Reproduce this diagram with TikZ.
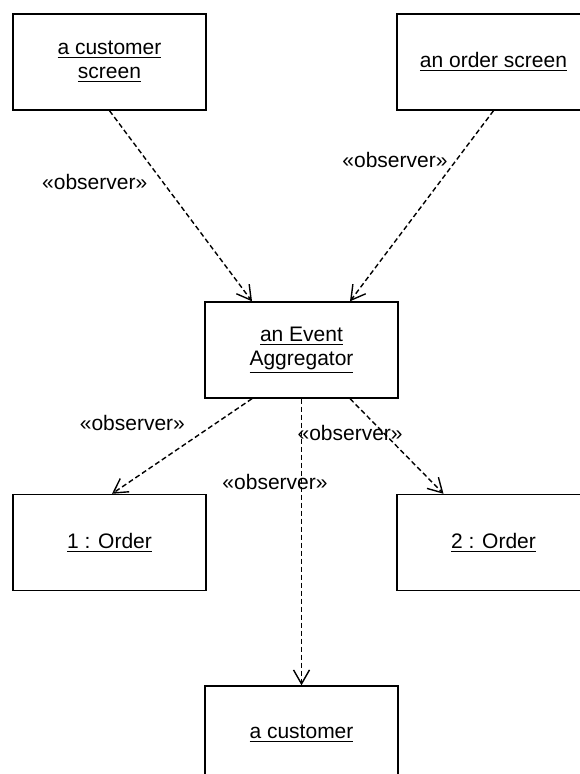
\documentclass[tikz,border=0pt]{standalone}
\usepackage{fontspec}
\setmainfont{Liberation Sans}
\usetikzlibrary{arrows.meta, positioning, calc}

\begin{document}
\begin{tikzpicture}[
  x=0.5pt, y=-0.5pt,
  obj/.style={draw, line width=0.7pt, minimum width=96.5pt, minimum height=48pt, align=center, inner sep=0pt, font=\fontsize{10.5}{12}\selectfont},
  obs label/.style={inner sep=0pt, font=\fontsize{10.5}{12}\selectfont},
  dep/.style={-{Straight Barb[length=7pt, width=8pt]}, dash pattern=on 2.5pt off 1.5pt, line width=0.7pt},
]
\useasboundingbox (0,0) rectangle (579,774);

% objects
\node[obj] (cscreen) at (109.5, 62) {\underline{a customer}\\\underline{screen}};
\node[obj] (oscreen) at (493.5, 62) {\underline{an order screen}};
\node[obj] (agg) at (301.5, 350) {\underline{an Event}\\\underline{Aggregator}};
\node[obj] (order1) at (109.5, 542.5) {\underline{1 : Order}};
\node[obj] (order2) at (493.5, 542.5) {\underline{2 : Order}};
\node[obj] (cust) at (301.5, 734) {\underline{a customer}};

% observer links
\draw[dep] (cscreen.south) -- ([xshift=-24.75pt]agg.north) node[obs label, pos=.375, anchor=east, xshift=-7.5pt] {«observer»};
\draw[dep] (oscreen.south) -- ([xshift=24.25pt]agg.north) node[obs label, pos=.26, anchor=east, xshift=-4pt] {«observer»};
\draw[dep] ([xshift=-24.75pt]agg.south) -- ([xshift=1.25pt]order1.north) node[obs label, pos=.26, anchor=east, xshift=-15pt] {«observer»};
\draw[dep] ([xshift=24.25pt]agg.south) -- ([xshift=-25pt]order2.north) node[obs label, pos=.365, xshift=-17pt] {«observer»};
\draw[dep] (agg.south) -- (cust.north) node[obs label, pos=.29, xshift=-13.25pt] {«observer»};

\end{tikzpicture}
\end{document}
